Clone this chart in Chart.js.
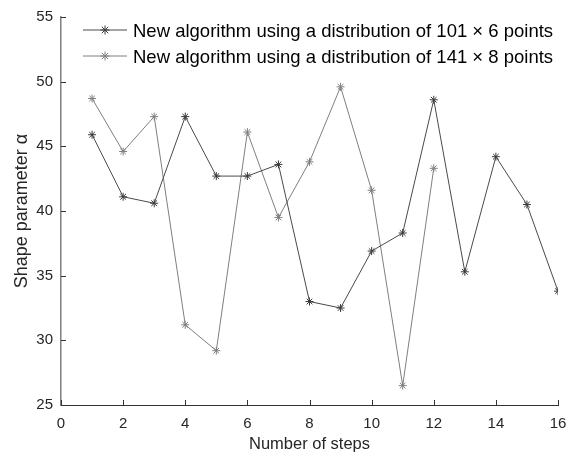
<!DOCTYPE html>
<html>
<head>
<meta charset="utf-8">
<script src="https://cdn.jsdelivr.net/npm/chart.js@4/dist/chart.umd.min.js"></script>
<style>
  html, body { margin: 0; padding: 0; background: #fff; }
  #wrap { width: 578px; height: 454px; }
</style>
</head>
<body>
<div id="wrap"><canvas id="myChart" width="578" height="454"></canvas></div>
<script>
var steps1 = [1, 2, 3, 4, 5, 6, 7, 8, 9, 10, 11, 12, 13, 14, 15, 16];
var alpha1 = [45.9, 41.1, 40.6, 47.3, 42.7, 42.7, 43.6, 33.0, 32.5, 36.9, 38.3, 48.6, 35.3, 44.2, 40.5, 33.8];
var steps2 = [1, 2, 3, 4, 5, 6, 7, 8, 9, 10, 11, 12];
var alpha2 = [48.7, 44.6, 47.3, 31.2, 29.2, 46.1, 39.5, 43.8, 49.6, 41.6, 26.5, 43.3];
var label1 = 'New algorithm using a distribution of 101 \u00d7 6 points';
var label2 = 'New algorithm using a distribution of 141 \u00d7 8 points';
var xTicks = [0, 2, 4, 6, 8, 10, 12, 14, 16];
var yTicks = [25, 30, 35, 40, 45, 50, 55];

function pairs(xs, ys) {
    var out = [];
    for (var i = 0; i < xs.length; i++) out.push({ x: xs[i], y: ys[i] });
    return out;
}

var fontFam = '"Liberation Sans", Arial, sans-serif';

// ticks pointing into the plot, like the original
var innerTicks = {
    id: 'innerTicks',
    afterDraw: function (chart) {
        var c = chart.ctx, a = chart.chartArea;
        var xs = chart.scales.x, ys = chart.scales.y;
        c.save();
        c.strokeStyle = '#333';
        c.lineWidth = 1;
        c.beginPath();
        xTicks.forEach(function (t) {
            var px = Math.round(xs.getPixelForValue(t)) + 0.5;
            c.moveTo(px, a.bottom);
            c.lineTo(px, a.bottom - 5);
        });
        yTicks.forEach(function (t) {
            var py = Math.round(ys.getPixelForValue(t)) + 0.5;
            c.moveTo(a.left, py);
            c.lineTo(a.left + 5, py);
        });
        c.stroke();
        c.restore();
    }
};

// legend drawn inside the plot area
var innerLegend = {
    id: 'innerLegend',
    afterDraw: function (chart) {
        var c = chart.ctx, a = chart.chartArea;
        c.save();
        chart.data.datasets.forEach(function (ds, i) {
            var y = a.top + 13 + i * 26;
            var x0 = a.left + 22, x1 = a.left + 66;
            c.strokeStyle = ds.borderColor;
            c.lineWidth = 1;
            c.beginPath();
            c.moveTo(x0, y);
            c.lineTo(x1, y);
            c.stroke();
            c.strokeStyle = ds.pointBorderColor;
            Chart.helpers.drawPoint(c, { pointStyle: 'star', radius: 4.5, borderWidth: 1 }, (x0 + x1) / 2, y);
            c.fillStyle = '#000';
            c.font = '18.5px ' + fontFam;
            c.textBaseline = 'middle';
            c.textAlign = 'left';
            c.fillText(ds.label, x1 + 6, y + 1.5);
        });
        c.restore();
    }
};

var ctx = document.getElementById('myChart');

var chartGraph = new Chart(ctx, {
    type: 'line',
    data: {
        datasets: [{
            label: label1,
            data: pairs(steps1, alpha1),
            borderColor: '#4a4a4a',
            backgroundColor: '#4a4a4a',
            borderWidth: 1,
            pointStyle: 'star',
            pointRadius: 4,
            pointBorderWidth: 1,
            pointBorderColor: '#3a3a3a',
            fill: false,
            tension: 0
        }, {
            label: label2,
            data: pairs(steps2, alpha2),
            borderColor: '#7f7f7f',
            backgroundColor: '#7f7f7f',
            borderWidth: 1,
            pointStyle: 'star',
            pointRadius: 4,
            pointBorderWidth: 1,
            pointBorderColor: '#808080',
            fill: false,
            tension: 0
        }]
    },
    options: {
        responsive: false,
        animation: false,
        layout: { padding: { top: 13, right: 20, left: 0, bottom: 0 } },
        plugins: {
            legend: { display: false },
            tooltip: { enabled: false }
        },
        scales: {
            x: {
                type: 'linear',
                min: 0,
                max: 16,
                afterFit: function (s) { s.height = 49; },
                afterBuildTicks: function (s) { s.ticks = xTicks.map(function (v) { return { value: v }; }); },
                grid: { display: true, drawOnChartArea: false, drawTicks: false },
                border: { display: true, color: '#333', width: 1 },
                ticks: { color: '#262626', font: { size: 15, family: fontFam }, padding: 10, maxRotation: 0 },
                title: { display: true, text: 'Number of steps', color: '#262626', font: { size: 16.5, family: fontFam }, padding: { top: 2, bottom: 0 } }
            },
            y: {
                min: 25,
                max: 55,
                afterFit: function (s) { s.width = 61; },
                afterBuildTicks: function (s) { s.ticks = yTicks.map(function (v) { return { value: v }; }); },
                grid: { display: true, drawOnChartArea: false, drawTicks: false },
                border: { display: true, color: '#808080', width: 1.5 },
                ticks: { color: '#262626', font: { size: 15, family: fontFam }, padding: 8 },
                title: { display: true, text: 'Shape parameter \u03b1', color: '#262626', font: { size: 18, family: fontFam }, padding: { top: 11, bottom: 0 } }
            }
        }
    },
    plugins: [innerTicks, innerLegend]
});
</script>
</body>
</html>
